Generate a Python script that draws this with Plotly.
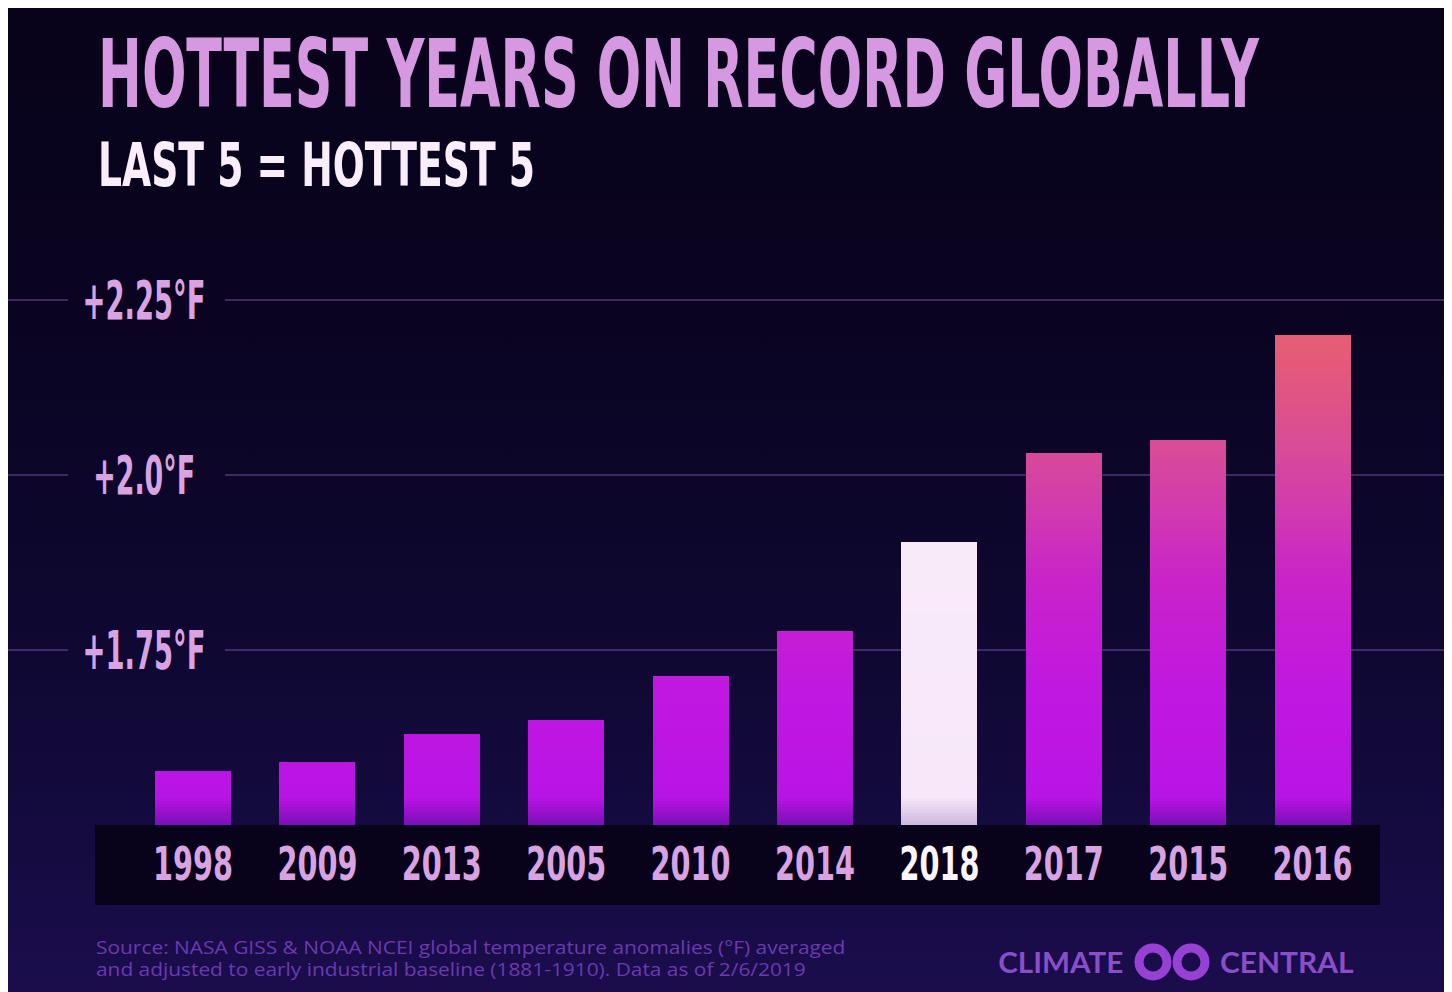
import base64
import json
import plotly.graph_objects as go

# ---------------- data ----------------
years = ["1998", "2009", "2013", "2005", "2010", "2014", "2018", "2017", "2015", "2016"]
anomaly_f = [1.577, 1.59, 1.63, 1.65, 1.713, 1.777, 1.905, 2.032, 2.05, 2.20]
highlight_year = "2018"
tick_values = [1.75, 2.0, 2.25]
tick_labels = ["+1.75°F", "+2.0°F", "+2.25°F"]
title_text = "HOTTEST YEARS ON RECORD GLOBALLY"
subtitle_text = "LAST 5 = HOTTEST 5"
source_line1 = "Source: NASA GISS & NOAA NCEI global temperature anomalies (°F) averaged"
source_line2 = "and adjusted to early industrial baseline (1881-1910). Data as of 2/6/2019"
brand_left = "CLIMATE"
brand_right = "CENTRAL"

# ---------------- layout geometry (screen px; page body adds an 8px offset) ----------------
OX, OY = 8, 8
W, H = 1452 - OX, 992 - OY
# plot area, screen px
SL, SR, ST, SB = 95, 1380, 200, 825
L, R, T, B = SL - OX, SR - OX, ST - OY, SB - OY   # figure px
Y_MIN = 1.5
PX_PER_UNIT = 700.0
Y_MAX = Y_MIN + (B - T) / PX_PER_UNIT
SLOT = 124.4
FIRST_CENTER = 193
X_LO = -(FIRST_CENTER - SL) / SLOT
X_HI = X_LO + (SR - SL) / SLOT


def pxx(sx):  # screen x -> paper x
    return (sx - SL) / (SR - SL)


def pxy(sy):  # screen y -> paper y
    return (SB - sy) / (SB - ST)


COND = "Liberation Sans Narrow, DejaVu Sans Condensed, Liberation Sans, sans-serif"
LAVENDER = "#d9a3e3"

# ---------------- bar gradient (colour as function of absolute height) ----------------
main_stops = [(1.50, "#7a10b6"), (1.54, "#b914e6"), (1.70, "#c118e0"), (1.85, "#c923c9"),
              (1.95, "#d13aaf"), (2.05, "#da4d94"), (2.15, "#e3587c"), (2.25, "#ea646a")]
hi_stops = [(1.50, "#cdb8de"), (1.54, "#f7e7f9"), (2.25, "#fbedfc")]


def hex2rgb(h):
    h = h.lstrip("#")
    return tuple(int(h[i:i + 2], 16) for i in (0, 2, 4))


def interp(stops, v):
    if v <= stops[0][0]:
        return stops[0][1]
    for (a, ca), (b, cb) in zip(stops, stops[1:]):
        if v <= b:
            t = (v - a) / (b - a)
            ra, rb = hex2rgb(ca), hex2rgb(cb)
            c = [round(ra[i] + (rb[i] - ra[i]) * t) for i in range(3)]
            return "rgb(%d,%d,%d)" % tuple(c)
    return stops[-1][1]


step = 3.0 / PX_PER_UNIT
levels = []
lv = Y_MIN + step
while lv < max(anomaly_f) + step:
    levels.append(lv)
    lv += step

fig = go.Figure()
for level in reversed(levels):
    ys, cols = [], []
    for yr, v in zip(years, anomaly_f):
        ys.append(None if v <= level - step else min(v, level))
        cols.append(interp(hi_stops if yr == highlight_year else main_stops, level - step / 2))
    fig.add_trace(go.Bar(x=years, y=ys, width=0.61, marker=dict(color=cols, line=dict(width=0)),
                         hoverinfo="skip", showlegend=False))

# ---------------- background ----------------
bg_svg = """<svg xmlns="http://www.w3.org/2000/svg" width="1444" height="984" viewBox="0 0 1444 984" preserveAspectRatio="none">
<defs><linearGradient id="g" x1="0" y1="0" x2="0" y2="1">
<stop offset="0" stop-color="#08031a"/>
<stop offset="0.3" stop-color="#0a0421"/>
<stop offset="0.6" stop-color="#0e072f"/>
<stop offset="0.85" stop-color="#150b40"/>
<stop offset="1" stop-color="#1b0d4d"/>
</linearGradient></defs>
<rect width="1444" height="984" fill="url(#g)"/></svg>"""
bg_src = "data:image/svg+xml;base64," + base64.b64encode(bg_svg.encode()).decode()

shapes = []
# category strip
shapes.append(dict(type="rect", xref="paper", yref="paper", x0=pxx(95), x1=pxx(1380),
                   y0=pxy(905), y1=pxy(825), fillcolor="#08021a", line=dict(width=0), layer="below"))
# gridlines (broken around labels)
for v in tick_values:
    for a, b in [(OX, 68), (225, 1452)]:
        shapes.append(dict(type="line", xref="paper", yref="y", x0=pxx(a), x1=pxx(b), y0=v, y1=v,
                           line=dict(color="rgba(160,110,210,0.35)", width=2), layer="below"))
# logo rings
for cx in (1153, 1191):
    r = 14
    shapes.append(dict(type="circle", xref="paper", yref="paper", x0=pxx(cx - r), x1=pxx(cx + r),
                       y0=pxy(962 + r), y1=pxy(962 - r), line=dict(color="#9640d4", width=9),
                       fillcolor="rgba(0,0,0,0)", layer="above"))

annotations = []
annotations.append(dict(text=title_text, xref="paper", yref="paper", x=pxx(96), y=pxy(74),
                        xanchor="left", yanchor="middle", showarrow=False,
                        font=dict(family=COND, size=94, color="#d698e0", weight="bold")))
annotations.append(dict(text=subtitle_text, xref="paper", yref="paper", x=pxx(96), y=pxy(165),
                        xanchor="left", yanchor="middle", showarrow=False,
                        font=dict(family=COND, size=60, color="#fbeefb", weight="bold")))
for v, lab in zip(tick_values, tick_labels):
    annotations.append(dict(text=lab, xref="paper", yref="y", x=pxx(144), y=v,
                            xanchor="center", yanchor="middle", showarrow=False,
                            font=dict(family=COND, size=54, color=LAVENDER, weight="bold")))
for line, cy in [(source_line1, 947), (source_line2, 969)]:
    annotations.append(dict(text=line, xref="paper", yref="paper", x=pxx(94), y=pxy(cy),
                            xanchor="left", yanchor="middle", align="left", showarrow=False,
                            font=dict(family="Open Sans, Lato, sans-serif", size=18, color="#6a3aae")))
annotations.append(dict(text=brand_left, xref="paper", yref="paper", x=pxx(1125), y=pxy(962),
                        xanchor="right", yanchor="middle", showarrow=False,
                        font=dict(family="Lato, Roboto, sans-serif", size=28, color="#8a4ec8", weight="bold")))
annotations.append(dict(text=brand_right, xref="paper", yref="paper", x=pxx(1218), y=pxy(962),
                        xanchor="left", yanchor="middle", showarrow=False,
                        font=dict(family="Lato, Roboto, sans-serif", size=28, color="#8a4ec8", weight="bold")))

ticktext = [("<span style='color:#fff6fd'>%s</span>" % y) if y == highlight_year else y for y in years]

fig.update_layout(
    width=W, height=H, autosize=False,
    margin=dict(l=L, r=W - R, t=T, b=H - B, pad=0),
    paper_bgcolor="#08031a", plot_bgcolor="rgba(0,0,0,0)",
    barmode="overlay", bargap=0,
    showlegend=False,
    xaxis=dict(type="category", categoryorder="array", categoryarray=years, range=[X_LO, X_HI],
               tickvals=years, ticktext=ticktext, ticks="", showgrid=False, zeroline=False,
               showline=False, ticklabelstandoff=8,
               tickfont=dict(family=COND, size=46, color=LAVENDER, weight="bold"), fixedrange=True),
    yaxis=dict(range=[Y_MIN, Y_MAX], visible=False, showgrid=False, zeroline=False, fixedrange=True),
    images=[dict(source=bg_src, xref="paper", yref="paper", x=pxx(OX), y=pxy(OY),
                 sizex=W / (SR - SL), sizey=H / (SB - ST), xanchor="left", yanchor="top",
                 sizing="stretch", layer="below")],
    shapes=shapes,
    annotations=annotations,
)

# horizontal condensing of the display-font texts (target ink widths in px)
rules = {title_text: {"w": 1162, "a": "left"},
         subtitle_text: {"w": 437, "a": "left"},
         "+2.25°F": {"w": 123, "a": "center"},
         "+2.0°F": {"w": 102, "a": "center"},
         "+1.75°F": {"w": 123, "a": "center"},
         source_line1: {"w": 750, "a": "left"},
         source_line2: {"w": 710, "a": "left"},
         brand_left: {"w": 125, "a": "right"},
         brand_right: {"w": 134, "a": "left"}}
for y in years:
    rules[y] = {"w": 80, "a": "center"}

post = """
var gd = document.getElementById('{plot_id}');
var rules = RULES;
gd.querySelectorAll('text').forEach(function(t){
  var key = (t.textContent || '').trim();
  var r = rules[key];
  if (!r) return;
  var bb = t.getBBox();
  if (!bb.width) return;
  var k = r.w / bb.width;
  var ax = r.a === 'left' ? bb.x : (r.a === 'right' ? bb.x + bb.width : bb.x + bb.width / 2);
  var tr = t.getAttribute('transform') || '';
  t.setAttribute('transform', tr + ' translate(' + ax + ',0) scale(' + k + ',1) translate(' + (-ax) + ',0)');
});
""".replace("RULES", json.dumps(rules, ensure_ascii=False))

fig.write_html("out.html", config={"displayModeBar": False, "responsive": False}, post_script=post)
